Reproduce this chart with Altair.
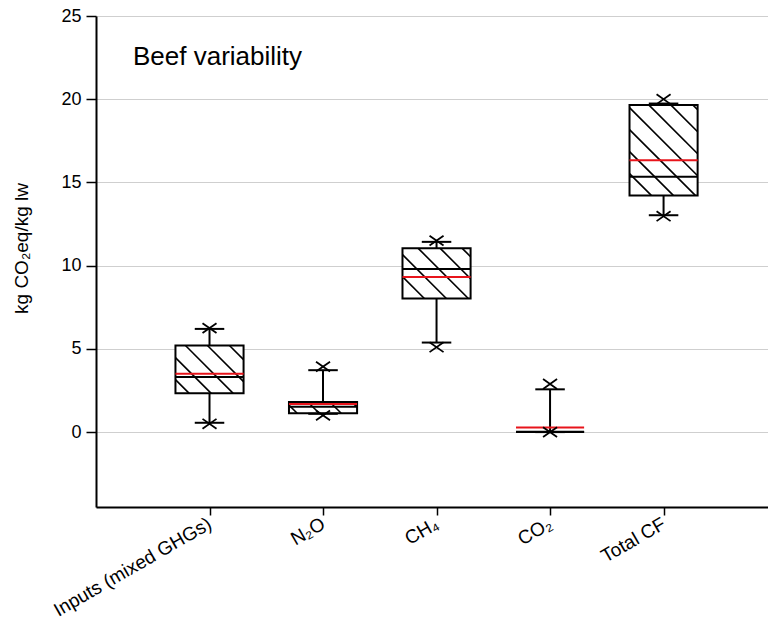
import json
import altair as alt
import pandas as pd

# ---- data ----
categories = ["Inputs (mixed GHGs)", "N₂O", "CH₄", "CO₂", "Total CF"]
q1 = [2.33, 1.13, 8.03, 0.0, 14.22]
q3 = [5.20, 1.81, 11.04, 0.0, 19.66]
median = [3.31, 1.52, 9.80, 0.02, 15.34]
mean = [3.51, 1.69, 9.32, 0.28, 16.34]
whisk_lo = [0.56, 1.10, 5.38, 0.0, 13.03]
whisk_hi = [6.20, 3.72, 11.43, 2.57, 19.74]
extreme_lo = [0.50, 1.00, 5.10, 0.0, 12.97]
extreme_hi = [6.25, 3.93, 11.50, 2.89, 20.00]

# ---- layout ----
W, H = 672, 491
XMAX = 5.92
YMIN, YMAX = -4.5, 25
HALF = 0.3      # half box width (x units)
CAP = 0.13      # half cap width
FONT = "Liberation Sans"

df = pd.DataFrame({
    "cat": categories,
    "pos": list(range(1, len(categories) + 1)),
    "q1": q1, "q3": q3, "med": median, "mean": mean,
    "wlo": whisk_lo, "whi": whisk_hi,
})

ext = pd.DataFrame({
    "pos": list(range(1, len(categories) + 1)) * 2,
    "v": extreme_lo + extreme_hi,
})

# hatch segments ("\\" direction, 45 deg in pixels) clipped to each box
sx = W / XMAX
sy = H / (YMAX - YMIN)
step = 22.0
rows = []
for i, (a, b) in enumerate(zip(q1, q3)):
    if b - a <= 0:
        continue
    p = i + 1
    X0, X1 = (p - HALF) * sx, (p + HALF) * sx
    Ylo, Yhi = a * sy, b * sy
    k = int((X0 + Ylo) // step) + 1
    while k * step < X1 + Yhi:
        c = k * step
        xa = max(X0, c - Yhi)
        xb = min(X1, c - Ylo)
        if xb - xa > 0.5:
            rows.append({"x": xa / sx, "y": (c - xa) / sy,
                         "x2": xb / sx, "y2": (c - xb) / sy})
        k += 1
hatch = pd.DataFrame(rows)

xscale = alt.Scale(domain=[0, XMAX], nice=False, zero=False)
yscale = alt.Scale(domain=[YMIN, YMAX], nice=False, zero=False)

label_expr = json.dumps(categories) + "[datum.value - 1]"

xaxis = alt.Axis(values=[1, 2, 3, 4, 5], labelExpr=label_expr, title=None,
                 grid=False, domainColor="black", domainWidth=2,
                 tickColor="black", tickWidth=1.5, tickSize=8,
                 labelAngle=330, labelAlign="right", labelBaseline="middle",
                 labelFont=FONT, labelFontSize=19, labelColor="black",
                 labelPadding=7, labelFlush=False, labelOverlap=False)
yaxis = alt.Axis(values=[0, 5, 10, 15, 20, 25], title="kg CO₂eq/kg lw",
                 grid=True, gridColor="#cfcfcf", gridWidth=1,
                 domainColor="black", domainWidth=2,
                 tickColor="black", tickWidth=1.5, tickSize=10,
                 labelFont=FONT, labelFontSize=18, labelColor="black",
                 labelPadding=5, labelFlush=False,
                 titleFont=FONT, titleFontSize=19, titleFontWeight="normal",
                 titleColor="black", titleX=-65, titleY=232, titleAngle=270,
                 titleAlign="center", titleBaseline="bottom")

base = alt.Chart(df).transform_calculate(
    x0=f"datum.pos - {HALF}", x1=f"datum.pos + {HALF}",
    c0=f"datum.pos - {CAP}", c1=f"datum.pos + {CAP}",
)

box_fill = base.mark_rect(fill="white", stroke=None).encode(
    x=alt.X("x0:Q", scale=xscale, axis=xaxis),
    x2="x1:Q",
    y=alt.Y("q1:Q", scale=yscale, axis=yaxis),
    y2="q3:Q",
)

hatch_layer = alt.Chart(hatch).mark_rule(color="black", strokeWidth=1.6).encode(
    x="x:Q", y="y:Q", x2="x2:Q", y2="y2:Q",
)

box_edge = base.mark_rect(fill=None, fillOpacity=0, stroke="black", strokeWidth=2).encode(
    x="x0:Q", x2="x1:Q", y="q1:Q", y2="q3:Q",
)

wh_hi = base.mark_rule(color="black", strokeWidth=2).encode(
    x="pos:Q", y="q3:Q", y2="whi:Q")
wh_lo = base.mark_rule(color="black", strokeWidth=2).encode(
    x="pos:Q", y="q1:Q", y2="wlo:Q")
cap_hi = base.mark_rule(color="black", strokeWidth=2).encode(
    x="c0:Q", x2="c1:Q", y="whi:Q")
cap_lo = base.mark_rule(color="black", strokeWidth=2).encode(
    x="c0:Q", x2="c1:Q", y="wlo:Q")

med = base.mark_rule(color="black", strokeWidth=2).encode(
    x="x0:Q", x2="x1:Q", y="med:Q")
mn = base.mark_rule(color="#e8141b", strokeWidth=2).encode(
    x="x0:Q", x2="x1:Q", y="mean:Q")

marks = alt.Chart(ext).mark_point(
    shape="M-1,-0.7L1,0.7M-1,0.7L1,-0.7", size=196, filled=False,
    stroke="black", strokeWidth=1.8, opacity=1,
).encode(x="pos:Q", y="v:Q")

title_txt = alt.Chart(pd.DataFrame({"t": ["Beef variability"]})).mark_text(
    align="left", baseline="alphabetic", font=FONT, fontSize=26, color="black",
).encode(x=alt.value(37), y=alt.value(49), text="t:N")

chart = alt.layer(
    box_fill, hatch_layer, box_edge, wh_hi, wh_lo, cap_hi, cap_lo, med, mn, marks, title_txt
).properties(
    width=W, height=H,
    padding={"left": 96, "top": 16, "right": 0, "bottom": 116},
    autosize=alt.AutoSizeParams(type="none"),
).configure_view(stroke=None).configure(background="white")

chart.save("out.html", embed_options={"renderer": "svg", "actions": False})
